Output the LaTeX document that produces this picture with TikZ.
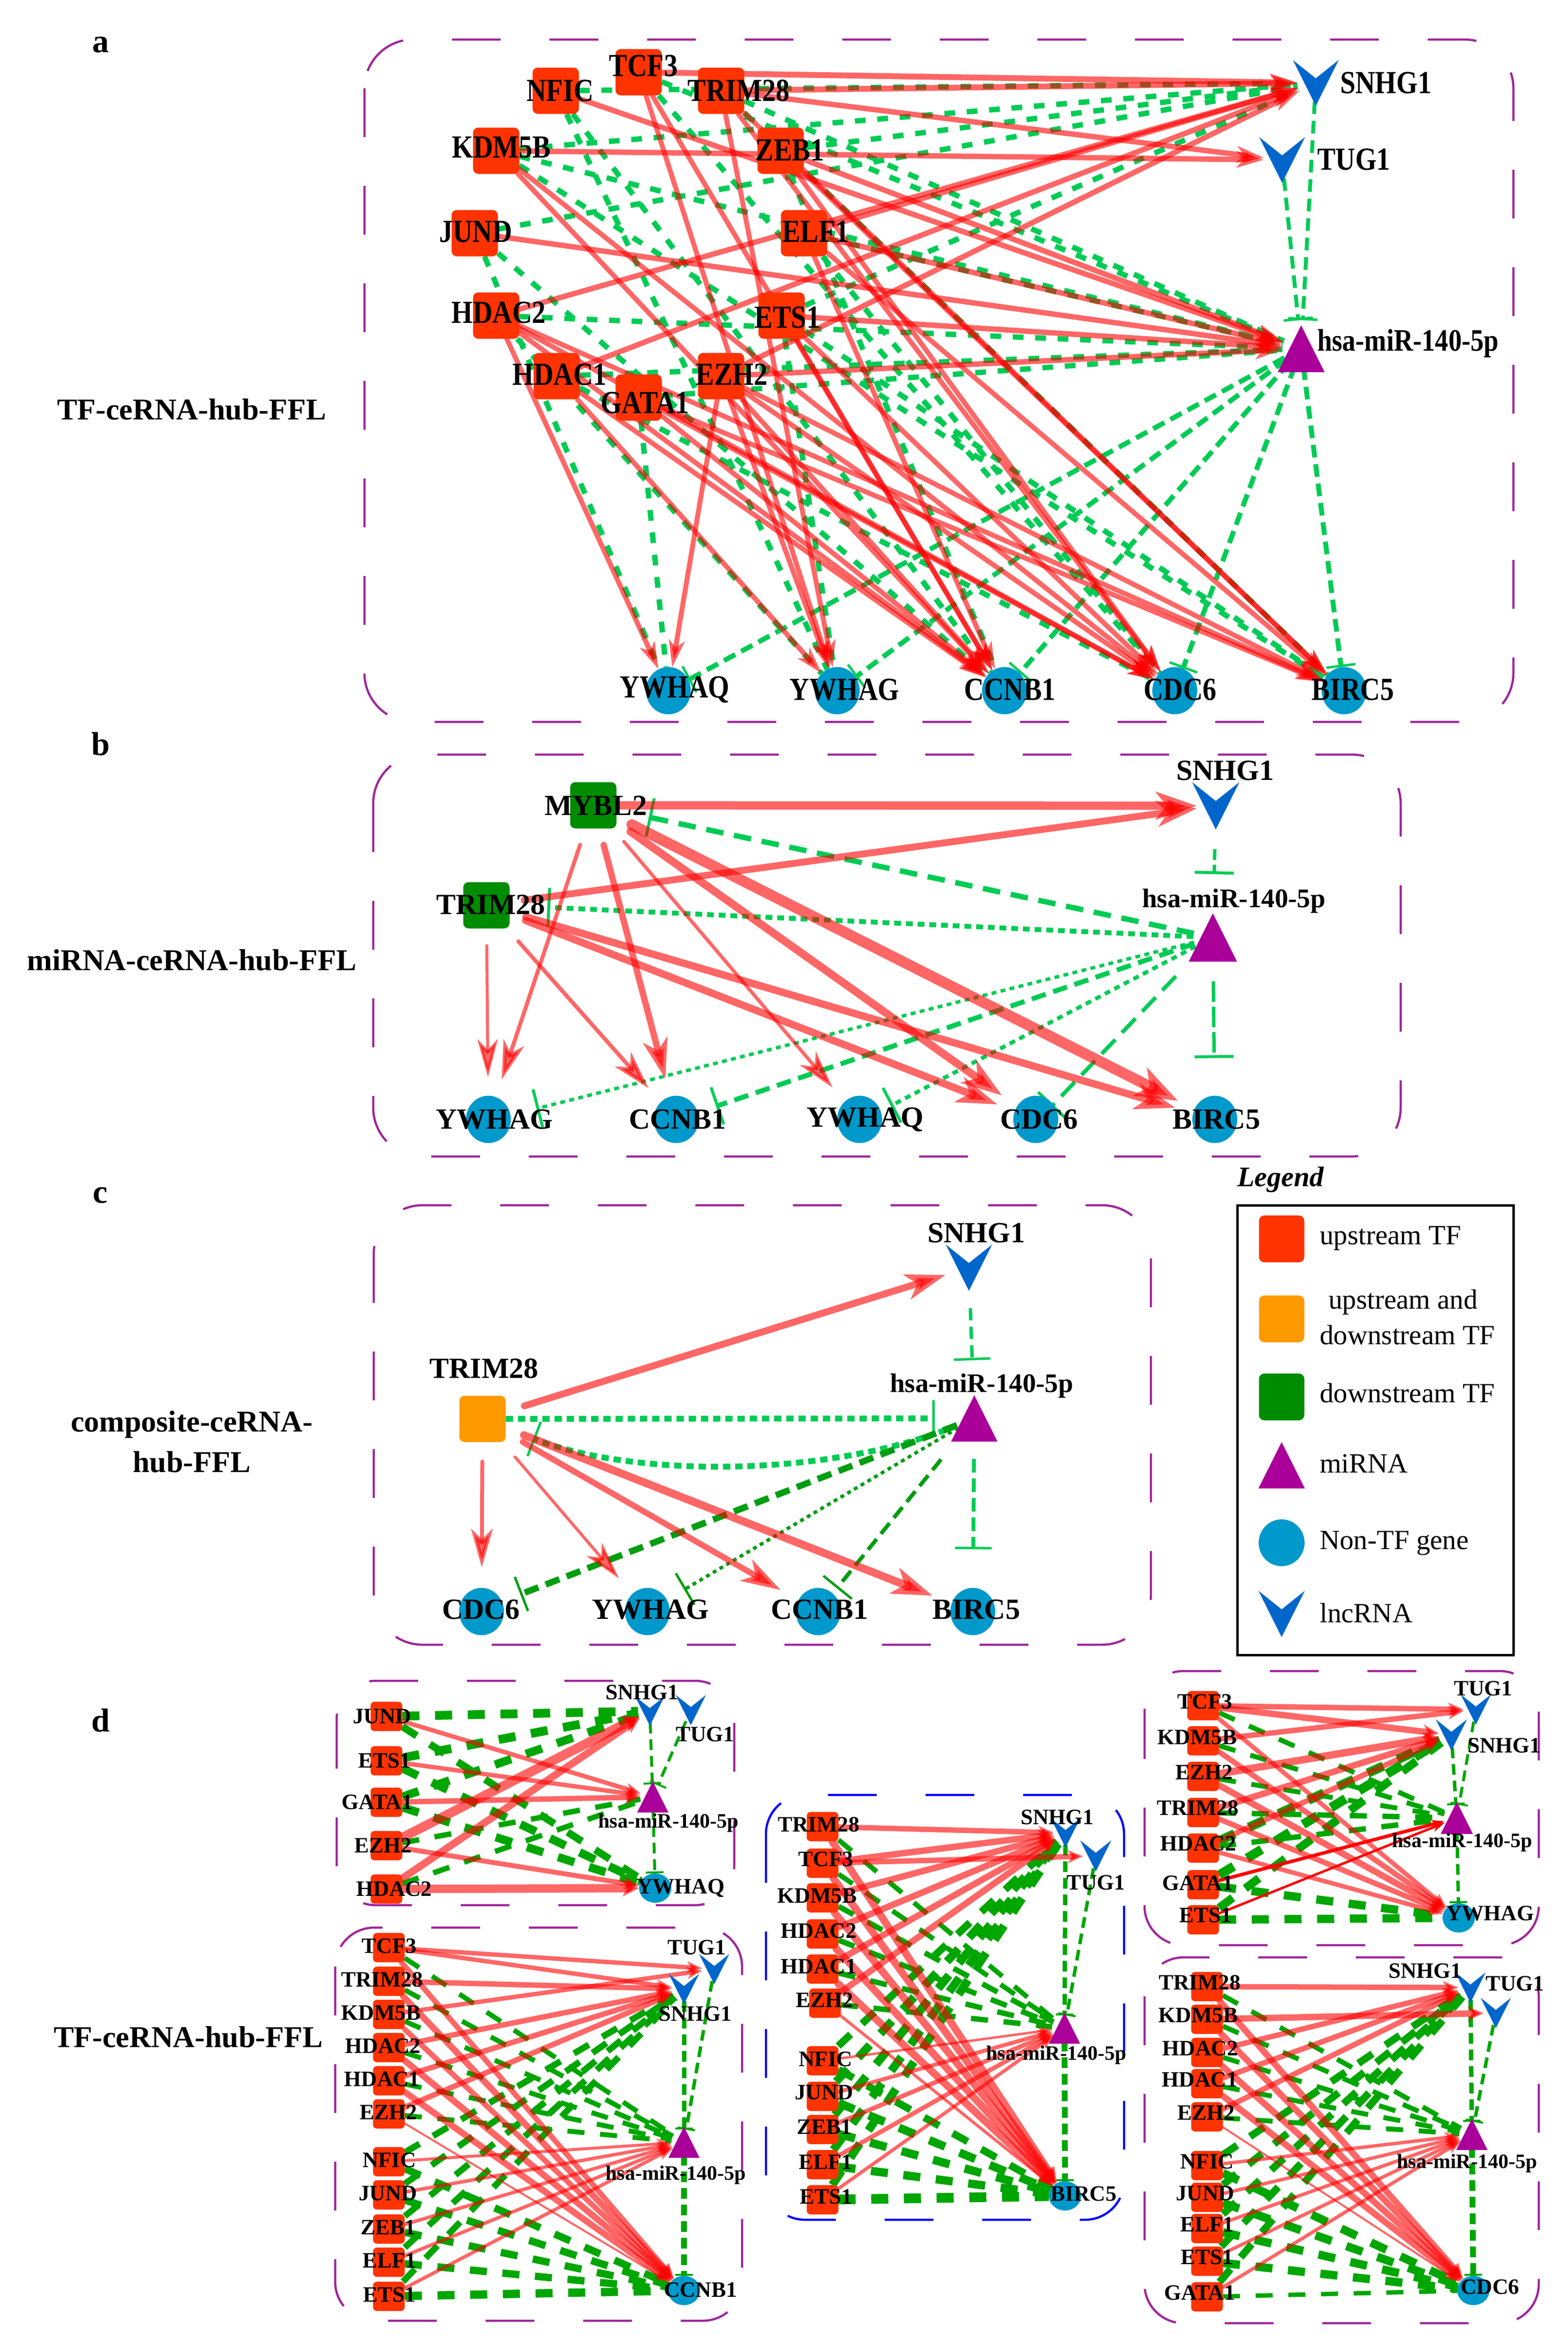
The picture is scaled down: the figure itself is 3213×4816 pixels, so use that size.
\documentclass[tikz,border=0pt]{standalone}
\usepackage{fontspec}
\setmainfont{Liberation Serif}
\newfontfamily\cfont[FakeStretch=0.85]{Liberation Serif}
\usetikzlibrary{arrows.meta,shapes.geometric}
\pgfdeclarelayer{bgwhite}
\pgfdeclarelayer{edges}
\pgfsetlayers{bgwhite,edges,main}
\definecolor{tfred}{HTML}{FF3300}
\definecolor{tforange}{HTML}{FF9900}
\definecolor{tfgreen}{HTML}{008C00}
\definecolor{mipurple}{HTML}{AA0099}
\definecolor{genecyan}{HTML}{0099CC}
\definecolor{lncblue}{HTML}{0066CC}
\definecolor{boxpurple}{HTML}{A0259B}
\definecolor{boxblue}{HTML}{0000FF}
\definecolor{grnA}{HTML}{00CC55}
\definecolor{grnC}{HTML}{009E10}
\definecolor{grnD}{HTML}{00A600}
\newcommand\lncnode[4]{\fill[lncblue] (#2-0.5*#4,#3-0.5*#4) -- (#2,#3-0.1*#4) -- (#2+0.5*#4,#3-0.5*#4) -- (#2,#3+0.5*#4) -- cycle;
 \node[hub=0.8*#4] (#1) at (#2,#3) {};}
\newcommand\minode[4]{\fill[mipurple] (#2-0.5*#4,#3+0.5*#4) -- (#2,#3-0.5*#4) -- (#2+0.5*#4,#3+0.5*#4) -- cycle;
 \node[hub=0.8*#4] (#1) at (#2,#3) {};}
\tikzset{
 tfbox/.style={rectangle, rounded corners=11pt, fill=tfred, minimum width=95pt, minimum height=95pt, inner sep=0pt},
 tfd/.style={rectangle, rounded corners=8pt, fill=tfred, minimum width=65pt, minimum height=60pt, inner sep=0pt},
 gene/.style={ellipse, fill=genecyan, minimum width=92pt, minimum height=97pt, inner sep=0pt},
 gened/.style={ellipse, fill=genecyan, minimum width=66pt, minimum height=60pt, inner sep=0pt},
 hub/.style={circle, inner sep=0pt, minimum size=#1},
 labA/.style={font=\cfont\bfseries\fontsize{66}{66}\selectfont, inner sep=0pt},
 miA/.style={font=\cfont\bfseries\fontsize{64}{64}\selectfont, inner sep=0pt, anchor=west},
 labB/.style={font=\bfseries\fontsize{60}{60}\selectfont, inner sep=0pt},
 miB/.style={font=\bfseries\fontsize{55}{55}\selectfont, inner sep=0pt},
 labD/.style={font=\bfseries\fontsize{45}{45}\selectfont, inner sep=0pt},
 miD/.style={font=\bfseries\fontsize{42}{42}\selectfont, inner sep=0pt},
 titl/.style={font=\bfseries\fontsize{62}{83}\selectfont, inner sep=0pt, align=center},
 lett/.style={font=\bfseries\fontsize{68}{68}\selectfont, inner sep=0pt},
 legt/.style={font=\fontsize{57}{57}\selectfont, inner sep=0pt, anchor=west},
 pbox/.style={draw=boxpurple, line width=4.5pt, dash pattern=on 100pt off 100pt, rounded corners=#1},
 pbox/.default=100pt,
 raA/.style={draw=red, opacity=0.6, line width=#1, line cap=round, -{Stealth[length=55pt 0 1, width=22pt 1 1, inset=14pt]}},
 raB/.style={draw=red, opacity=0.6, line width=#1, line cap=round, -{Stealth[length=75pt 0.5 1, width=34pt 1.3 1, inset=22pt]}},
 raD/.style={draw=red, opacity=0.6, line width=#1, line cap=round, -{Stealth[length=28pt 0.3 1, width=14pt 1.1 1, inset=8pt]}},
 rsD/.style={draw=red, line width=#1, line cap=round, -{Stealth[length=26pt 0 1, width=18pt 0 1, inset=7pt]}},
 gA/.style={draw=grnA, line width=#1, dash pattern=on 22pt off 24pt},
 gAb/.style={draw=grnA, line width=#1, dash pattern=on 26pt off 14pt, -{Bar[width=60pt 0 1, line width=5pt 0 1]}},
 gBb/.style={draw=grnA, line width=#1, -{Bar[width=80pt 0 1, line width=6pt 0 1]}},
 gCb/.style={draw=grnC, line width=#1, -{Bar[width=75pt 0 1, line width=5pt 0 1]}},
 gD/.style={draw=grnD, line width=#1, dash pattern=on 35pt off 32pt},
 gDb/.style={draw=grnD, line width=#1, dash pattern=on 22pt off 12pt, -{Bar[width=36pt 0 1, line width=4pt 0 1]}},
}
\begin{document}
\begin{tikzpicture}[x=1pt,y=-1pt]
\begin{pgfonlayer}{bgwhite}
\fill[white] (0,0) rectangle (3213,4816);
\end{pgfonlayer}
\useasboundingbox (0,0) rectangle (3213,4816);

% ---------------- letters and titles
\node[lett] (la) at (206,92) {a};
\node[lett] (lb) at (206,1525) {b};
\node[lett] (lc) at (206,2451) {c};
\node[lett] (ld) at (206,3527) {d};
\node[titl] (ta) at (393,839) {TF-ceRNA-hub-FFL};
\node[titl] (tb) at (393,1968) {miRNA-ceRNA-hub-FFL};
\node[titl] (tc) at (393,2956) {composite-ceRNA-\\hub-FFL};
\node[titl] (td) at (386,4176) {TF-ceRNA-hub-FFL};

% ---------------- panel boxes
\draw[pbox] (747,81) rectangle (3102,1480);
\draw[pbox] (765,1547) rectangle (2871,2371);
\draw[pbox] (766,2471) rectangle (2359,3372);
\draw[pbox=80pt] (690,3446) rectangle (1505,3906);
\draw[pbox=80pt, draw=boxblue] (1570,3680) rectangle (2304,4551);
\draw[pbox=80pt] (2346,3426) rectangle (3154,3988);
\draw[pbox=80pt] (687,3952) rectangle (1521,4758);
\draw[pbox=80pt] (2346,4013) rectangle (3154,4763);

% ================= PANEL A
\foreach \n/\x/\y in {NFIC/1139/186, TCF3/1309/148, TRIM28/1478/186, KDM5B/1017/309, ZEB1/1600/309, JUND/973/478, ELF1/1648/478, HDAC2/1017/647, ETS1/1602/647, HDAC1/1141/771, EZH2/1478/771, GATA1/1309/815}
  {\node[tfbox] (a\n) at (\x,\y) {};}
\foreach \n/\x in {YWHAQ/1370, YWHAG/1716, CCNB1/2059, CDC6/2408, BIRC5/2755}
  {\node[gene] (a\n) at (\x,1416) {};}
\lncnode{aSNHG1}{2697}{170}{94}
\lncnode{aTUG1}{2628}{328}{94}
\minode{ami}{2667}{715}{96}
\foreach \n/\x/\y in {NFIC/1148/186, TCF3/1319/135, TRIM28/1514/186, KDM5B/1028/302, ZEB1/1619/308, JUND/975/475, ELF1/1672/475, HDAC2/1022/641, ETS1/1614/651, HDAC1/1147/768, EZH2/1500/768, GATA1/1322/826}
  {\node[labA] (a\n-l) at (\x,\y) {\n};}
\foreach \n/\x in {YWHAQ/1383, YWHAG/1731, CCNB1/2070, CDC6/2419, BIRC5/2773}
  {\node[labA] (a\n-l) at (\x,1414) {\n};}
\node[labA, anchor=west] (aSNHG1-l) at (2747,170) {SNHG1};
\node[labA, anchor=west] (aTUG1-l) at (2700,327) {TUG1};
\node[miA] (ami-l) at (2700,704) {hsa-miR-140-5p};

\begin{pgfonlayer}{edges}
\foreach \s/\t in {aNFIC/aSNHG1, aZEB1/aSNHG1, aJUND/aSNHG1, aETS1/aSNHG1, aKDM5B/ami, aTRIM28/ami, aHDAC2/ami, aHDAC1/ami, aGATA1/ami, aELF1/ami, aTCF3/ami, aNFIC/aCCNB1, aNFIC/aYWHAG, aJUND/aYWHAQ, aJUND/aCCNB1, aKDM5B/aBIRC5, aTRIM28/aBIRC5, aZEB1/aCCNB1, aELF1/aCDC6, aETS1/aBIRC5, aHDAC2/aYWHAG, aGATA1/aYWHAQ, aTCF3/aCDC6, aHDAC1/aCDC6, aETS1/aYWHAG, aKDM5B/aSNHG1}
  {\draw[gA=11] (\s) -- (\t);}
\draw[gAb=8, shorten >=20pt] (aSNHG1) -- (ami);
\draw[gAb=8, shorten >=20pt] (aTUG1) -- (ami);
\foreach \t in {aYWHAQ, aYWHAG, aCCNB1, aCDC6, aBIRC5}
  {\draw[gAb=10] (ami) -- (\t);}
\foreach \s/\t/\w in {aTCF3/aSNHG1/12, aTRIM28/aSNHG1/12, aTRIM28/aTUG1/11, aKDM5B/aTUG1/11, aELF1/aSNHG1/11, aHDAC2/aSNHG1/11, aHDAC1/aSNHG1/11, aEZH2/aSNHG1/11, aNFIC/ami/11, aZEB1/ami/11, aJUND/ami/11, aELF1/ami/11, aETS1/ami/11, aEZH2/ami/11, aTCF3/aYWHAG/10, aTCF3/aCCNB1/10, aTRIM28/aYWHAG/10, aTRIM28/aCDC6/10, aTRIM28/aBIRC5/10, aKDM5B/aCCNB1/10, aKDM5B/aCDC6/10, aZEB1/aCDC6/10, aZEB1/aBIRC5/10, aELF1/aCCNB1/10, aELF1/aBIRC5/10, aHDAC2/aYWHAQ/10, aHDAC2/aCCNB1/10, aHDAC2/aCDC6/10, aHDAC2/aBIRC5/10, aHDAC1/aYWHAG/10, aHDAC1/aCCNB1/10, aGATA1/aCCNB1/10, aGATA1/aCDC6/10, aGATA1/aBIRC5/10, aEZH2/aYWHAQ/10, aEZH2/aYWHAG/10, aEZH2/aCCNB1/10, aEZH2/aCDC6/10, aEZH2/aBIRC5/10, aETS1/aCCNB1/10, aETS1/aCDC6/10}
  {\draw[raA=\w] (\s) -- (\t);}
\end{pgfonlayer}

% ================= PANEL B
\node[tfbox, fill=tfgreen] (bMYBL2) at (1216,1651) {};
\node[tfbox, fill=tfgreen] (bTRIM28) at (997,1856) {};
\lncnode{bSNHG1}{2492}{1652}{97}
\minode{bmi}{2486}{1922}{99}
\foreach \n/\x in {YWHAG/1001, CCNB1/1386, YWHAQ/1762, CDC6/2123, BIRC5/2490}
  {\node[gene] (b\n) at (\x,2295) {};}
\node[labB] (bMYBL2-l) at (1221,1652) {MYBL2};
\node[labB] (bTRIM28-l) at (1006,1855) {TRIM28};
\node[labB] (bSNHG1-l) at (2511,1580) {SNHG1};
\node[miB] (bmi-l) at (2529,1847) {hsa-miR-140-5p};
\foreach \n/\x in {YWHAG/1013, CCNB1/1389, YWHAQ/1773, CDC6/2130, BIRC5/2493}
  {\node[labB] (b\n-l) at (\x,2295) {\n};}

\begin{pgfonlayer}{edges}
\draw[gBb=7, dash pattern=on 22pt off 10pt, shorten <=50pt, shorten >=90pt] (bSNHG1) -- (bmi);
\draw[gBb=7, dash pattern=on 42pt off 10pt, shorten <=50pt, shorten >=77pt] (bmi) -- (bBIRC5);
\draw[gBb=11, dash pattern=on 36pt off 22pt, shorten >=15pt] (bmi) -- (bMYBL2-l);
\draw[gBb=10, dash pattern=on 14pt off 10pt, shorten >=4pt] (bmi) -- (bTRIM28-l);
\draw[gBb=7, dash pattern=on 10pt off 9pt, shorten >=6pt] (bmi) -- (bYWHAG-l);
\draw[gBb=10, dash pattern=on 30pt off 16pt, shorten >=20pt] (bmi) -- (bCCNB1-l);
\draw[gBb=8, dash pattern=on 12pt off 10pt, shorten >=6pt] (bmi) -- (bYWHAQ-l);
\draw[gBb=8, dash pattern=on 40pt off 20pt, shorten <=70pt, shorten >=8pt] (bmi) -- (bCDC6-l);
\draw[raB=17] (bMYBL2) -- (bSNHG1);
\draw[raB=14, shorten <=30pt] (bTRIM28) -- (bSNHG1);
\foreach \s/\t/\w in {bMYBL2/bYWHAG/8, bMYBL2/bCCNB1/13, bMYBL2/bYWHAQ/7, bMYBL2/bCDC6/16, bMYBL2/bBIRC5/22, bTRIM28/bYWHAG/6, bTRIM28/bCCNB1/8, bTRIM28/bCDC6/15, bTRIM28/bBIRC5/15}
  {\draw[raB=\w, shorten <=35pt, shorten >=38pt] (\s) -- (\t);}
\end{pgfonlayer}

% ================= PANEL C
\node[tfbox, fill=tforange] (cTRIM28) at (989,2909) {};
\lncnode{cSNHG1}{1986}{2599}{95}
\minode{cmi}{1997}{2908}{95}
\foreach \n/\x in {CDC6/987, YWHAG/1327, CCNB1/1677, BIRC5/1994}
  {\node[gene] (c\n) at (\x,3304) {};}
\node[labB] (cTRIM28-l) at (992,2806) {TRIM28};
\node[labB] (cSNHG1-l) at (2001,2528) {SNHG1};
\node[miB] (cmi-l) at (2012,2841) {hsa-miR-140-5p};
\foreach \n/\x in {CDC6/986, YWHAG/1333, CCNB1/1680, BIRC5/2001}
  {\node[labB] (c\n-l) at (\x,3300) {\n};}

\begin{pgfonlayer}{edges}
\draw[gCb=7, draw=grnA, dash pattern=on 25pt off 13pt, shorten <=45pt, shorten >=81pt] (cSNHG1) -- (cmi);
\draw[gCb=8, draw=grnA, dash pattern=on 28pt off 12pt, shorten <=45pt, shorten >=79pt] (cmi) -- (cBIRC5);
\draw[gCb=12, draw=grnA, dash pattern=on 15pt off 10pt, shorten >=43pt] (cTRIM28) -- (cmi);
\draw[gCb=12, draw=grnA, dash pattern=on 15pt off 10pt, shorten >=60pt] (cmi) .. controls (1700,3030) and (1300,3030) .. (cTRIM28);
\draw[gCb=13, dash pattern=on 30pt off 16pt, shorten >=30pt] (cmi) -- (cCDC6-l);
\draw[gCb=7, dash pattern=on 8pt off 8pt, shorten >=40pt] (cmi) -- (cYWHAG-l);
\draw[gCb=8, dash pattern=on 28pt off 14pt, shorten <=70pt, shorten >=30pt] (cmi) -- (cCCNB1-l);
\draw[raB=14, shorten <=40pt, shorten >=12pt] (cTRIM28) -- (cSNHG1);
\foreach \t/\w in {cCDC6/8, cYWHAG/6, cCCNB1/12, cBIRC5/16}
  {\draw[raB=\w, shorten <=40pt, shorten >=42pt] (cTRIM28) -- (\t);}
\end{pgfonlayer}

% ================= LEGEND
\node[font=\bfseries\itshape\fontsize{58}{58}\selectfont, inner sep=0pt] (lgtitle) at (2625,2419) {Legend};
\draw[line width=5pt] (2536,2471) rectangle (3102,3393);
\node[tfbox, minimum width=93pt, minimum height=96pt] (lg1) at (2627,2540) {};
\node[tfbox, fill=tforange, minimum width=93pt, minimum height=96pt] (lg2) at (2627,2704) {};
\node[tfbox, fill=tfgreen, minimum width=93pt, minimum height=96pt] (lg3) at (2627,2864) {};
\minode{lg4}{2627}{3004}{95}
\node[gene, minimum width=94pt, minimum height=96pt] (lg5) at (2627,3163) {};
\lncnode{lg6}{2627}{3309}{95}
\node[legt] (lgt1) at (2705,2539) {upstream TF};
\node[legt] (lgt2a) at (2723,2670) {upstream and};
\node[legt] (lgt2b) at (2705,2737) {downstream TF};
\node[legt] (lgt3) at (2705,2856) {downstream TF};
\node[legt] (lgt4) at (2705,3001) {miRNA};
\node[legt] (lgt5) at (2705,3164) {Non-TF gene};
\node[legt] (lgt6) at (2705,3307) {lncRNA};

% ================= PANEL D1
\foreach \n/\y/\lx in {JUND/3519/783, ETS1/3610/788, GATA1/3695/773, EZH2/3784/785, HDAC2/3873/808}
  {\node[tfd] (d1\n) at (792,\y) {}; \node[labD] (d1\n-l) at (\lx,\y) {\n};}
\lncnode{d1SNHG1}{1332}{3508}{60}
\lncnode{d1TUG1}{1416}{3506}{62}
\minode{d1mi}{1338}{3684}{64}
\node[gened] (d1YWHAQ) at (1343,3871) {};
\node[labD] (d1SNHG1-l) at (1316,3470) {SNHG1};
\node[labD] (d1TUG1-l) at (1445,3556) {TUG1};
\node[miD] (d1mi-l) at (1370,3737) {hsa-miR-140-5p};
\node[labD] (d1YWHAQ-l) at (1395,3871) {YWHAQ};
\begin{pgfonlayer}{edges}
\foreach \s/\t/\w in {d1JUND/d1SNHG1/18, d1ETS1/d1SNHG1/18, d1GATA1/d1SNHG1/17, d1JUND/d1YWHAQ/15, d1ETS1/d1YWHAQ/17, d1GATA1/d1YWHAQ/17, d1EZH2/d1mi/11, d1HDAC2/d1mi/11}
  {\draw[gD=\w] (\s) -- (\t);}
\foreach \s/\t in {d1SNHG1/d1mi, d1TUG1/d1mi, d1mi/d1YWHAQ}
  {\draw[gDb=6] (\s) -- (\t);}
\foreach \s/\t/\w in {d1JUND/d1mi/9, d1ETS1/d1mi/9, d1GATA1/d1mi/11, d1EZH2/d1SNHG1/19, d1HDAC2/d1SNHG1/15, d1EZH2/d1YWHAQ/10, d1HDAC2/d1YWHAQ/17}
  {\draw[raD=\w] (\s) -- (\t);}
\end{pgfonlayer}

% ================= PANEL D2
\foreach \n/\x/\y/\lx/\ly in {TRIM28/1686/3745/1678/3741, TCF3/1686/3820/1693/3812, KDM5B/1686/3891/1675/3887, HDAC2/1686/3965/1678/3959, HDAC1/1686/4037/1678/4032, EZH2/1691/4107/1690/4101, NFIC/1686/4225/1692/4222, JUND/1686/4298/1689/4290, ZEB1/1686/4366/1690/4361, ELF1/1686/4438/1692/4433, ETS1/1686/4510/1693/4504}
  {\node[tfd] (d2\n) at (\x,\y) {}; \node[labD] (d2\n-l) at (\lx,\ly) {\n};}
\lncnode{d2SNHG1}{2184}{3758}{60}
\lncnode{d2TUG1}{2246}{3805}{64}
\minode{d2mi}{2182}{4158}{64}
\node[gened] (d2BIRC5) at (2183,4502) {};
\node[labD] (d2SNHG1-l) at (2167,3726) {SNHG1};
\node[labD] (d2TUG1-l) at (2246,3860) {TUG1};
\node[miD] (d2mi-l) at (2165,4213) {hsa-miR-140-5p};
\node[labD] (d2BIRC5-l) at (2221,4498) {BIRC5};
\begin{pgfonlayer}{edges}
\foreach \s/\t/\w in {d2TRIM28/d2mi/10, d2TCF3/d2mi/10, d2KDM5B/d2mi/11, d2HDAC2/d2mi/11, d2HDAC1/d2mi/11, d2EZH2/d2mi/11, d2NFIC/d2SNHG1/15, d2JUND/d2SNHG1/17, d2ZEB1/d2SNHG1/17, d2ELF1/d2SNHG1/17, d2ETS1/d2SNHG1/17, d2NFIC/d2BIRC5/15, d2JUND/d2BIRC5/17, d2ZEB1/d2BIRC5/17, d2ELF1/d2BIRC5/17, d2ETS1/d2BIRC5/20}
  {\draw[gD=\w] (\s) -- (\t);}
\draw[gDb=9] (d2SNHG1) -- (d2mi);
\draw[gDb=7] (d2TUG1) -- (d2mi);
\draw[gDb=12] (d2mi) -- (d2BIRC5);
\foreach \s/\t/\w in {d2TRIM28/d2SNHG1/11, d2TCF3/d2SNHG1/13, d2TCF3/d2TUG1/11, d2KDM5B/d2SNHG1/13, d2HDAC2/d2SNHG1/13, d2HDAC1/d2SNHG1/13, d2EZH2/d2SNHG1/13, d2TRIM28/d2BIRC5/15, d2TCF3/d2BIRC5/15, d2KDM5B/d2BIRC5/15, d2HDAC2/d2BIRC5/15, d2HDAC1/d2BIRC5/15, d2EZH2/d2BIRC5/6, d2NFIC/d2mi/5, d2JUND/d2mi/8, d2ZEB1/d2mi/9, d2ELF1/d2mi/9, d2ETS1/d2mi/7}
  {\draw[raD=\w] (\s) -- (\t);}
\end{pgfonlayer}

% ================= PANEL D3
\foreach \n/\y/\lx/\ly in {TCF3/3497/2470/3489, KDM5B/3569/2454/3562, EZH2/3642/2468/3634, TRIM28/3716/2455/3707, HDAC2/3789/2456/3780, GATA1/3864/2455/3861, ETS1/3936/2471/3927}
  {\node[tfd] (d3\n) at (2466,\y) {}; \node[labD] (d3\n-l) at (\lx,\ly) {\n};}
\lncnode{d3TUG1}{3025}{3505}{62}
\lncnode{d3SNHG1}{2975}{3557}{64}
\minode{d3mi}{2986}{3727}{66}
\node[gened] (d3YWHAG) at (2990,3932) {};
\node[labD] (d3TUG1-l) at (3040,3462) {TUG1};
\node[labD] (d3SNHG1-l) at (3083,3579) {SNHG1};
\node[miD] (d3mi-l) at (2997,3777) {hsa-miR-140-5p};
\node[labD] (d3YWHAG-l) at (3054,3923) {YWHAG};
\begin{pgfonlayer}{edges}
\foreach \s/\t/\w in {d3TCF3/d3mi/10, d3KDM5B/d3mi/10, d3EZH2/d3mi/10, d3TRIM28/d3mi/11, d3HDAC2/d3mi/11, d3GATA1/d3SNHG1/19, d3ETS1/d3SNHG1/17, d3HDAC2/d3SNHG1/19, d3GATA1/d3YWHAG/17, d3ETS1/d3YWHAG/17}
  {\draw[gD=\w] (\s) -- (\t);}
\draw[gDb=7] (d3SNHG1) -- (d3mi);
\draw[gDb=6] (d3TUG1) -- (d3mi);
\draw[gDb=7] (d3mi) -- (d3YWHAG);
\foreach \s/\t/\w in {d3TCF3/d3TUG1/11, d3TCF3/d3SNHG1/13, d3KDM5B/d3TUG1/11, d3EZH2/d3SNHG1/15, d3TRIM28/d3SNHG1/13, d3HDAC2/d3SNHG1/11, d3TCF3/d3YWHAG/9, d3KDM5B/d3YWHAG/11, d3EZH2/d3YWHAG/13, d3TRIM28/d3YWHAG/11, d3HDAC2/d3YWHAG/9}
  {\draw[raD=\w] (\s) -- (\t);}
\draw[rsD=7] (d3GATA1) -- (d3mi);
\draw[rsD=5] (d3ETS1) -- (d3mi);
\end{pgfonlayer}

% ================= PANEL D4
\foreach \n/\y/\lx in {TCF3/3993/798, TRIM28/4062/783, KDM5B/4130/781, HDAC2/4198/785, HDAC1/4266/783, EZH2/4334/796, NFIC/4432/798, JUND/4500/795, ZEB1/4570/796, ELF1/4638/798, ETS1/4708/798}
  {\node[tfd] (d4\n) at (797,\y) {}; \node[labD] (d4\n-l) at (\lx,\y-3) {\n};}
\lncnode{d4TUG1}{1464}{4037}{62}
\lncnode{d4SNHG1}{1402}{4078}{62}
\minode{d4mi}{1402}{4392}{64}
\node[gened] (d4CCNB1) at (1402,4696) {};
\node[labD] (d4TUG1-l) at (1428,3993) {TUG1};
\node[labD] (d4SNHG1-l) at (1425,4129) {SNHG1};
\node[miD] (d4mi-l) at (1385,4459) {hsa-miR-140-5p};
\node[labD] (d4CCNB1-l) at (1436,4695) {CCNB1};
\begin{pgfonlayer}{edges}
\foreach \s/\t/\w in {d4TCF3/d4mi/10, d4TRIM28/d4mi/10, d4KDM5B/d4mi/10, d4HDAC2/d4mi/10, d4HDAC1/d4mi/10, d4EZH2/d4mi/10, d4NFIC/d4SNHG1/13, d4JUND/d4SNHG1/13, d4ZEB1/d4SNHG1/13, d4ELF1/d4SNHG1/13, d4ETS1/d4SNHG1/13, d4NFIC/d4CCNB1/15, d4JUND/d4CCNB1/15, d4ZEB1/d4CCNB1/15, d4ELF1/d4CCNB1/15, d4ETS1/d4CCNB1/17}
  {\draw[gD=\w] (\s) -- (\t);}
\draw[gDb=9] (d4SNHG1) -- (d4mi);
\draw[gDb=7] (d4TUG1) -- (d4mi);
\draw[gDb=12] (d4mi) -- (d4CCNB1);
\foreach \s/\t/\w in {d4TCF3/d4TUG1/9, d4TCF3/d4SNHG1/9, d4TRIM28/d4SNHG1/11, d4KDM5B/d4TUG1/9, d4HDAC2/d4SNHG1/11, d4HDAC1/d4SNHG1/11, d4EZH2/d4SNHG1/11, d4TCF3/d4CCNB1/11, d4TRIM28/d4CCNB1/13, d4KDM5B/d4CCNB1/11, d4HDAC2/d4CCNB1/13, d4HDAC1/d4CCNB1/13, d4EZH2/d4CCNB1/4, d4NFIC/d4mi/6, d4JUND/d4mi/7, d4ZEB1/d4mi/7, d4ELF1/d4mi/7, d4ETS1/d4mi/7}
  {\draw[raD=\w] (\s) -- (\t);}
\end{pgfonlayer}

% ================= PANEL D5
\foreach \n/\y/\lx in {TRIM28/4073/2459, KDM5B/4140/2456, HDAC2/4208/2460, HDAC1/4272/2459, EZH2/4340/2472, NFIC/4440/2474, JUND/4505/2470, ELF1/4569/2474, ETS1/4636/2474, GATA1/4709/2459}
  {\node[tfd] (d5\n) at (2474,\y) {}; \node[labD] (d5\n-l) at (\lx,\y-8) {\n};}
\lncnode{d5SNHG1}{3014}{4075}{62}
\lncnode{d5TUG1}{3066}{4127}{62}
\minode{d5mi}{3017}{4376}{64}
\node[gened] (d5CDC6) at (3020,4696) {};
\node[labD] (d5SNHG1-l) at (2921,4041) {SNHG1};
\node[labD] (d5TUG1-l) at (3105,4067) {TUG1};
\node[miD] (d5mi-l) at (3007,4435) {hsa-miR-140-5p};
\node[labD] (d5CDC6-l) at (3054,4689) {CDC6};
\begin{pgfonlayer}{edges}
\foreach \s/\t/\w in {d5TRIM28/d5mi/10, d5KDM5B/d5mi/10, d5HDAC2/d5mi/10, d5HDAC1/d5mi/10, d5EZH2/d5mi/10, d5NFIC/d5SNHG1/15, d5JUND/d5SNHG1/15, d5ELF1/d5SNHG1/15, d5ETS1/d5SNHG1/15, d5GATA1/d5SNHG1/15, d5NFIC/d5CDC6/17, d5JUND/d5CDC6/17, d5ELF1/d5CDC6/17, d5ETS1/d5CDC6/17, d5GATA1/d5CDC6/9}
  {\draw[gD=\w] (\s) -- (\t);}
\draw[gDb=9] (d5SNHG1) -- (d5mi);
\draw[gDb=7] (d5TUG1) -- (d5mi);
\draw[gDb=12] (d5mi) -- (d5CDC6);
\foreach \s/\t/\w in {d5TRIM28/d5SNHG1/11, d5KDM5B/d5TUG1/13, d5HDAC2/d5SNHG1/11, d5HDAC1/d5SNHG1/11, d5EZH2/d5SNHG1/11, d5TRIM28/d5CDC6/13, d5KDM5B/d5CDC6/13, d5HDAC2/d5CDC6/13, d5HDAC1/d5CDC6/13, d5EZH2/d5CDC6/4, d5NFIC/d5mi/7, d5JUND/d5mi/7, d5ELF1/d5mi/7, d5ETS1/d5mi/7, d5GATA1/d5mi/7}
  {\draw[raD=\w] (\s) -- (\t);}
\end{pgfonlayer}
\end{tikzpicture}
\end{document}
